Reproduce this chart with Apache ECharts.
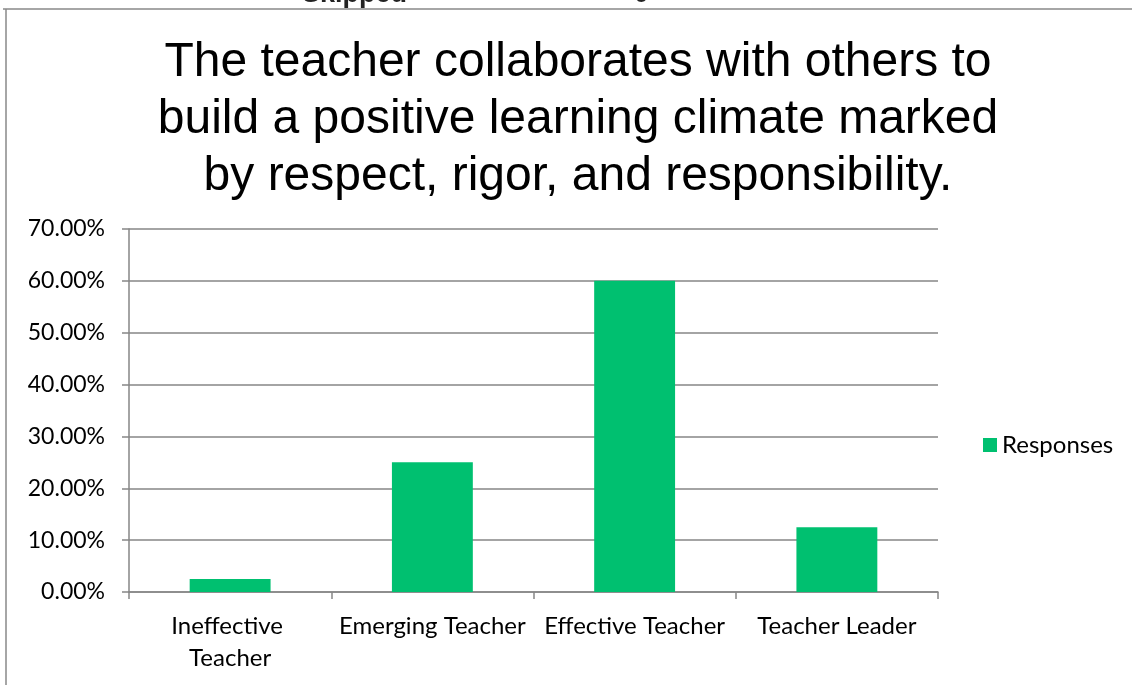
<!DOCTYPE html>
<html>
<head>
<meta charset="utf-8">
<script src="https://cdn.jsdelivr.net/npm/echarts@6/dist/echarts.min.js"></script>
<style>html,body{margin:0;padding:0;background:#fff;}#c{width:1132px;height:685px;}</style>
</head>
<body>
<div id="c"></div>
<script>
const categories = ['Ineffective Teacher', 'Emerging Teacher', 'Effective Teacher', 'Teacher Leader'];
const responses = [0.025, 0.25, 0.60, 0.125];
const seriesName = 'Responses';
const titleText = 'The teacher collaborates with others to\nbuild a positive learning climate marked\nby respect, rigor, and responsibility.';
const clippedTopTexts = ['Skipped', '0'];

const chart = echarts.init(document.getElementById('c'));
chart.setOption({
  animation: false,
  backgroundColor: '#fff',
  title: {
    text: titleText,
    left: 573, top: 29, textAlign: 'center',
    textStyle: { fontFamily: 'Liberation Sans', fontSize: 48, fontWeight: 'normal', color: '#000', lineHeight: 57 }
  },
  legend: {
    data: [seriesName], left: 978, top: 428, orient: 'vertical',
    icon: 'rect', itemWidth: 14, itemHeight: 14, itemGap: 8,
    textStyle: { fontFamily: 'Lato', fontSize: 24, color: '#000' }
  },
  grid: { left: 129, right: 194, top: 229, bottom: 93, containLabel: false },
  xAxis: {
    type: 'category', data: categories,
    axisLine: { lineStyle: { color: '#868686', width: 1.5 } },
    axisTick: { show: true, length: 7, lineStyle: { color: '#868686', width: 1.5 } },
    axisLabel: { fontFamily: 'Lato', fontSize: 24, color: '#000', margin: 18, lineHeight: 32, interval: 0,
      width: 196, overflow: 'break' }
  },
  yAxis: {
    type: 'value', min: 0, max: 0.7, interval: 0.1,
    axisLine: { show: true, lineStyle: { color: '#868686', width: 1.5 } },
    axisTick: { show: true, length: 7, lineStyle: { color: '#868686', width: 1.5 } },
    splitLine: { lineStyle: { color: '#868686', width: 1.5 } },
    axisLabel: { fontFamily: 'Lato', fontSize: 23, color: '#000', margin: 24,
      formatter: v => (v * 100).toFixed(2) + '%' }
  },
  series: [{
    name: seriesName, type: 'bar', data: responses, barWidth: '40%',
    itemStyle: { color: '#00C070' }
  }],
  graphic: [
    { type: 'line', shape: { x1: 3, y1: 9, x2: 1132, y2: 9 }, style: { stroke: '#888', lineWidth: 1.5 } },
    { type: 'line', shape: { x1: 6, y1: 9, x2: 6, y2: 685 }, style: { stroke: '#888', lineWidth: 1.5 } },
    { type: 'text', x: 302, y: 8, style: { text: clippedTopTexts[0], font: 'bold 27px "Liberation Sans"', fill: '#222', verticalAlign: 'bottom' } },
    { type: 'text', x: 634, y: 8, style: { text: clippedTopTexts[1], font: 'bold 27px "Liberation Sans"', fill: '#222', verticalAlign: 'bottom' } }
  ]
});
</script>
</body>
</html>
